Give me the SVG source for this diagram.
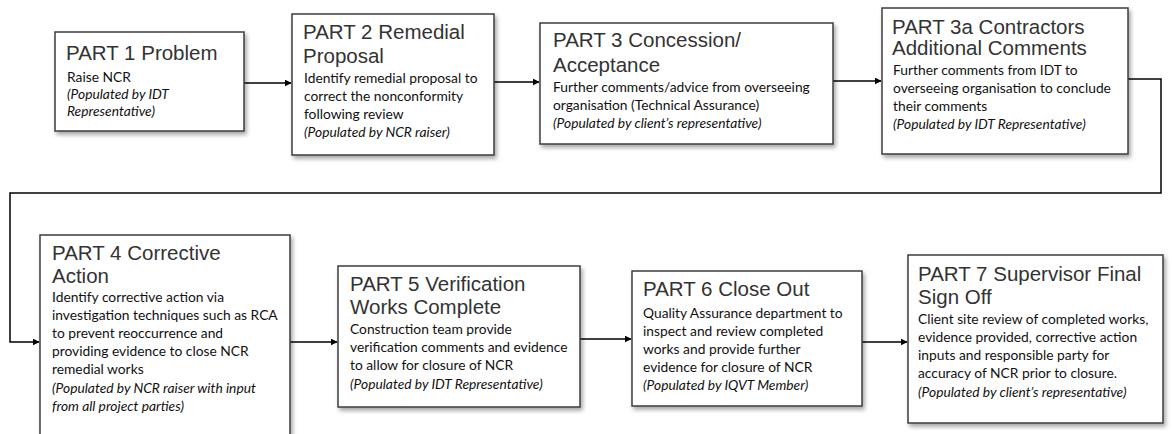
<svg xmlns="http://www.w3.org/2000/svg" width="1172" height="434" viewBox="0 0 1172 434">
  <defs>
    <filter id="shadow" x="-10%" y="-10%" width="125%" height="130%">
      <feDropShadow dx="2" dy="3" stdDeviation="2" flood-color="#000" flood-opacity="0.35"/>
    </filter>
    <marker id="arrow" viewBox="0 0 10 10" refX="9" refY="5" markerWidth="7" markerHeight="7" markerUnits="userSpaceOnUse" orient="auto">
      <path d="M0,0 L10,5 L0,10 z" fill="#000"/>
    </marker>
  </defs>
  <style>
    .box { fill: #fff; stroke: #3c3c3c; stroke-width: 1.5; filter: url(#shadow); }
    .title { font-family: "Liberation Sans", Arial, sans-serif; font-size: 20.5px; fill: #333; }
    .body { font-family: Lato, "Liberation Sans", sans-serif; font-size: 13.8px; fill: #111; }
    .note { font-style: italic; }
    .conn { fill: none; stroke: #000; stroke-width: 1.5; }
  </style>
  <rect width="1172" height="434" fill="#fff"/>

  <!-- connectors -->
  <g id="connectors">
    <path class="conn" d="M244,83 H291" marker-end="url(#arrow)"/>
    <path class="conn" d="M494,82 H539" marker-end="url(#arrow)"/>
    <path class="conn" d="M833,81 H881" marker-end="url(#arrow)"/>
    <path class="conn" d="M1128,79 H1161 V193 H10 V342 H39" marker-end="url(#arrow)"/>
    <path class="conn" d="M290,342 H337" marker-end="url(#arrow)"/>
    <path class="conn" d="M580,339 H631" marker-end="url(#arrow)"/>
    <path class="conn" d="M862,342 H907" marker-end="url(#arrow)"/>
  </g>

  <g id="part1">
    <rect class="box" x="55" y="32" width="189" height="99"/>
    <text class="title" x="66" y="60">PART 1 Problem</text>
    <text class="body" x="67" y="82">Raise NCR</text>
    <text class="body note" x="67" y="99">(Populated by IDT</text>
    <text class="body note" x="67" y="116">Representative)</text>
  </g>

  <g id="part2">
    <rect class="box" x="292" y="14" width="202" height="141"/>
    <text class="title" x="303" y="39">PART 2 Remedial</text>
    <text class="title" x="303" y="63">Proposal</text>
    <text class="body" x="304" y="83">Identify remedial proposal to</text>
    <text class="body" x="304" y="101">correct the nonconformity</text>
    <text class="body" x="304" y="119">following review</text>
    <text class="body note" x="304" y="137">(Populated by NCR raiser)</text>
  </g>

  <g id="part3">
    <rect class="box" x="540" y="23" width="293" height="121"/>
    <text class="title" x="553" y="47">PART 3 Concession/</text>
    <text class="title" x="553" y="72">Acceptance</text>
    <text class="body" x="553" y="92">Further comments/advice from overseeing</text>
    <text class="body" x="553" y="110">organisation (Technical Assurance)</text>
    <text class="body note" x="553" y="128">(Populated by client’s representative)</text>
  </g>

  <g id="part3a">
    <rect class="box" x="882" y="8" width="246" height="146"/>
    <text class="title" x="892" y="34">PART 3a Contractors</text>
    <text class="title" x="892" y="55">Additional Comments</text>
    <text class="body" x="893" y="75">Further comments from IDT to</text>
    <text class="body" x="893" y="93">overseeing organisation to conclude</text>
    <text class="body" x="893" y="111">their comments</text>
    <text class="body note" x="893" y="129">(Populated by IDT Representative)</text>
  </g>

  <g id="part4">
    <rect class="box" x="40" y="235" width="250" height="215"/>
    <text class="title" x="52" y="260">PART 4 Corrective</text>
    <text class="title" x="52" y="283">Action</text>
    <text class="body" x="52" y="302">Identify corrective action via</text>
    <text class="body" x="52" y="320">investigation techniques such as RCA</text>
    <text class="body" x="52" y="338">to prevent reoccurrence and</text>
    <text class="body" x="52" y="356">providing evidence to close NCR</text>
    <text class="body" x="52" y="374">remedial works</text>
    <text class="body note" x="52" y="393">(Populated by NCR raiser with input</text>
    <text class="body note" x="52" y="411">from all project parties)</text>
  </g>

  <g id="part5">
    <rect class="box" x="338" y="266" width="242" height="141"/>
    <text class="title" x="350" y="291">PART 5 Verification</text>
    <text class="title" x="350" y="314">Works Complete</text>
    <text class="body" x="350" y="334">Construction team provide</text>
    <text class="body" x="350" y="352">verification comments and evidence</text>
    <text class="body" x="350" y="370">to allow for closure of NCR</text>
    <text class="body note" x="350" y="389">(Populated by IDT Representative)</text>
  </g>

  <g id="part6">
    <rect class="box" x="632" y="271" width="230" height="135"/>
    <text class="title" x="643" y="296">PART 6 Close Out</text>
    <text class="body" x="643" y="318">Quality Assurance department to</text>
    <text class="body" x="643" y="336">inspect and review completed</text>
    <text class="body" x="643" y="354">works and provide further</text>
    <text class="body" x="643" y="372">evidence for closure of NCR</text>
    <text class="body note" x="643" y="390">(Populated by IQVT Member)</text>
  </g>

  <g id="part7">
    <rect class="box" x="908" y="255" width="255" height="168"/>
    <text class="title" x="918" y="281">PART 7 Supervisor Final</text>
    <text class="title" x="918" y="304">Sign Off</text>
    <text class="body" x="918" y="324">Client site review of completed works,</text>
    <text class="body" x="918" y="342">evidence provided, corrective action</text>
    <text class="body" x="918" y="360">inputs and responsible party for</text>
    <text class="body" x="918" y="378">accuracy of NCR prior to closure.</text>
    <text class="body note" x="918" y="397">(Populated by client’s representative)</text>
  </g>
</svg>
